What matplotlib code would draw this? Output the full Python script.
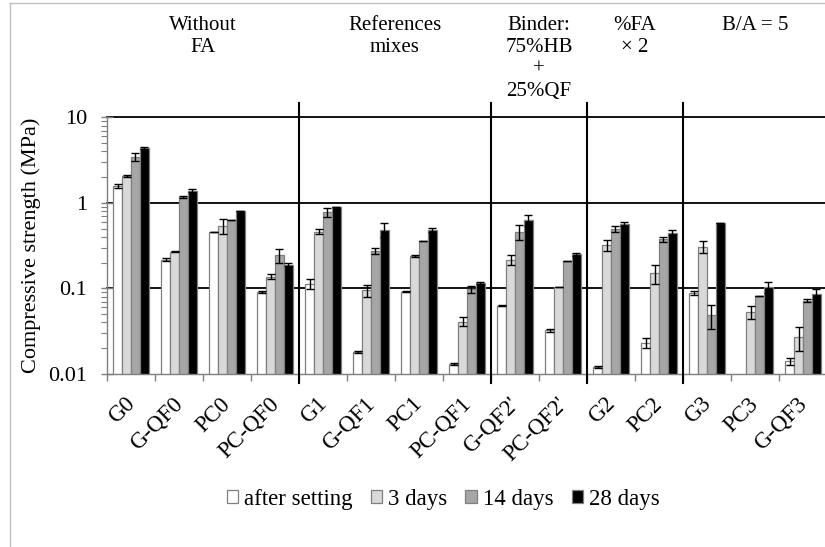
import numpy as np
import matplotlib
matplotlib.use("Agg")
import matplotlib.pyplot as plt
import matplotlib.transforms as mtransforms
from matplotlib.ticker import LogLocator, NullFormatter, FixedLocator
from matplotlib.patches import Patch

plt.rcParams['font.family'] = ['Liberation Serif', 'DejaVu Serif']

# ---------------- data ----------------
categories = ["G0", "G-QF0", "PC0", "PC-QF0", "G1", "G-QF1", "PC1", "PC-QF1",
              "G-QF2'", "PC-QF2'", "G2", "PC2", "G3", "PC3", "G-QF3"]

series_names = ["after setting", "3 days", "14 days", "28 days"]

after_setting = [1.57, 0.217, 0.454, 0.091, 0.114, 0.018, 0.092, 0.0131,
                 0.063, 0.0325, 0.0122, 0.0233, 0.0885, np.nan, 0.0141]
days_3 = [2.08, 0.269, 0.542, 0.137, 0.46, 0.095, 0.24, 0.041,
          0.217, 0.103, 0.32, 0.15, 0.308, 0.053, 0.0269]
days_14 = [3.47, 1.17, 0.63, 0.244, 0.776, 0.274, 0.359, 0.0986,
           0.46, 0.21, 0.496, 0.376, 0.0486, 0.082, 0.072]
days_28 = [4.34, 1.39, 0.80, 0.19, 0.895, 0.486, 0.482, 0.116,
           0.626, 0.25, 0.562, 0.449, 0.587, 0.103, 0.086]

err_after_setting = [0.07, 0.0076, 0.003, 0.0017, 0.016, 0.0005, 0.0017, 0.0004,
                     0.0005, 0.0013, 0.0003, 0.003, 0.0043, np.nan, 0.0014]
err_3 = [0.056, 0.002, 0.105, 0.0085, 0.033, 0.016, 0.0075, 0.0048,
         0.029, 0.0, 0.045, 0.0375, 0.051, 0.009, 0.0085]
err_14 = [0.39, 0.041, 0.0, 0.046, 0.09, 0.024, 0.0, 0.009,
          0.093, 0.002, 0.036, 0.028, 0.0146, 0.0, 0.0023]
err_28 = [0.12, 0.063, 0.005, 0.006, 0.0, 0.09, 0.02, 0.002,
          0.09, 0.011, 0.03, 0.03, 0.0, 0.0147, 0.0116]

group_labels = ["Without\nFA", "References\nmixes", "Binder:\n75%HB\n+\n25%QF",
                "%FA\n\u00d7 2", "B/A = 5"]
group_sizes = [4, 4, 2, 2, 3]

y_ticks = [0.01, 0.1, 1, 10]
y_tick_labels = ["0.01", "0.1", "1", "10"]

# ---------------- styling ----------------
colors = ["#ffffff", "#d9d9d9", "#a6a6a6", "#000000"]
edge = "#7f7f7f"

W, H = 825, 547
fig = plt.figure(figsize=(W / 100, H / 100), dpi=100)
ax = fig.add_axes([107 / W, 1 - 374 / H, 720 / W, (374 - 117.3) / H])

values = [after_setting, days_3, days_14, days_28]
errors = [err_after_setting, err_3, err_14, err_28]

n = len(categories)
centers = np.arange(n) + 0.5
bw = 0.186
for i, (vals, errs) in enumerate(zip(values, errors)):
    xs = centers + (i - 1.5) * bw
    ax.bar(xs, vals, width=bw, color=colors[i], edgecolor=edge, linewidth=0.9,
           label=series_names[i], zorder=3)
    ax.errorbar(xs, vals, yerr=errs, fmt='none', ecolor='black', elinewidth=1.0,
                capsize=3, capthick=1.0, zorder=4)

ax.set_yscale('log')
ax.set_ylim(y_ticks[0], y_ticks[-1])
ax.set_xlim(0, n)

ax.set_yticks(y_ticks)
ax.set_yticklabels(y_tick_labels, fontsize=16)
ax.yaxis.set_minor_locator(LogLocator(base=10, subs=np.arange(2, 10)))
ax.yaxis.set_minor_formatter(NullFormatter())
ax.tick_params(axis='y', which='major', direction='inout', length=9, width=1,
               color=edge, pad=10)
ax.tick_params(axis='y', which='minor', direction='out', length=4, width=0.8,
               color=edge)

ax.set_xticks(centers)
ax.xaxis.set_minor_locator(FixedLocator(np.arange(n + 1)))
ax.tick_params(axis='x', which='major', length=0, pad=14)
ax.tick_params(axis='x', which='minor', direction='out', length=5, width=1,
               color=edge)
ax.set_xticklabels(categories, fontsize=16.5, rotation=45, ha='right',
                   va='top', rotation_mode='anchor')
shift = mtransforms.ScaledTranslation(-5 / 72, 0, fig.dpi_scale_trans)
for tick in ax.xaxis.get_major_ticks():
    tick.label1.set_transform(tick.label1.get_transform() + shift)

# horizontal gridlines (not at the bottom axis)
for t in y_ticks[1:]:
    ax.axhline(t, color='black', linewidth=1.3, zorder=0, clip_on=False)

for s in ['top', 'right']:
    ax.spines[s].set_visible(False)
for s in ['left', 'bottom']:
    ax.spines[s].set_color(edge)
    ax.spines[s].set_linewidth(1)
    ax.spines[s].set_zorder(6)

ax.set_ylabel("Compressive strength (MPa)", fontsize=16, labelpad=5)

# group separators and header labels
bounds = np.concatenate([[0], np.cumsum(group_sizes)])
trans = ax.get_xaxis_transform()
for b in bounds[1:-1]:
    ax.plot([b, b], [-0.035, 1.056], transform=trans, color='black',
            linewidth=1.5, clip_on=False, zorder=7)
for lbl, a, b in zip(group_labels, bounds[:-1], bounds[1:]):
    ax.text((a + b) / 2, 1.395, lbl, transform=trans, ha='center', va='top',
            fontsize=15, linespacing=1.22, multialignment='center')

# legend
handles = [Patch(facecolor=c, edgecolor=edge, linewidth=0.9) for c in colors]
fig.legend(handles, series_names, loc='center', bbox_to_anchor=(443 / W, 1 - 499 / H),
           ncol=4, frameon=False, fontsize=16.5, handlelength=0.5,
           handleheight=0.5, handletextpad=0.25, columnspacing=0.8)

# chart border (Excel-style frame)
fig.add_artist(plt.Line2D([10 / W, 10 / W], [0, 1 - 3 / H], color='#bfbfbf',
                          linewidth=1, transform=fig.transFigure))
fig.add_artist(plt.Line2D([10 / W, 1], [1 - 3 / H, 1 - 3 / H], color='#bfbfbf',
                          linewidth=1, transform=fig.transFigure))

fig.savefig("out.png", dpi=100)
